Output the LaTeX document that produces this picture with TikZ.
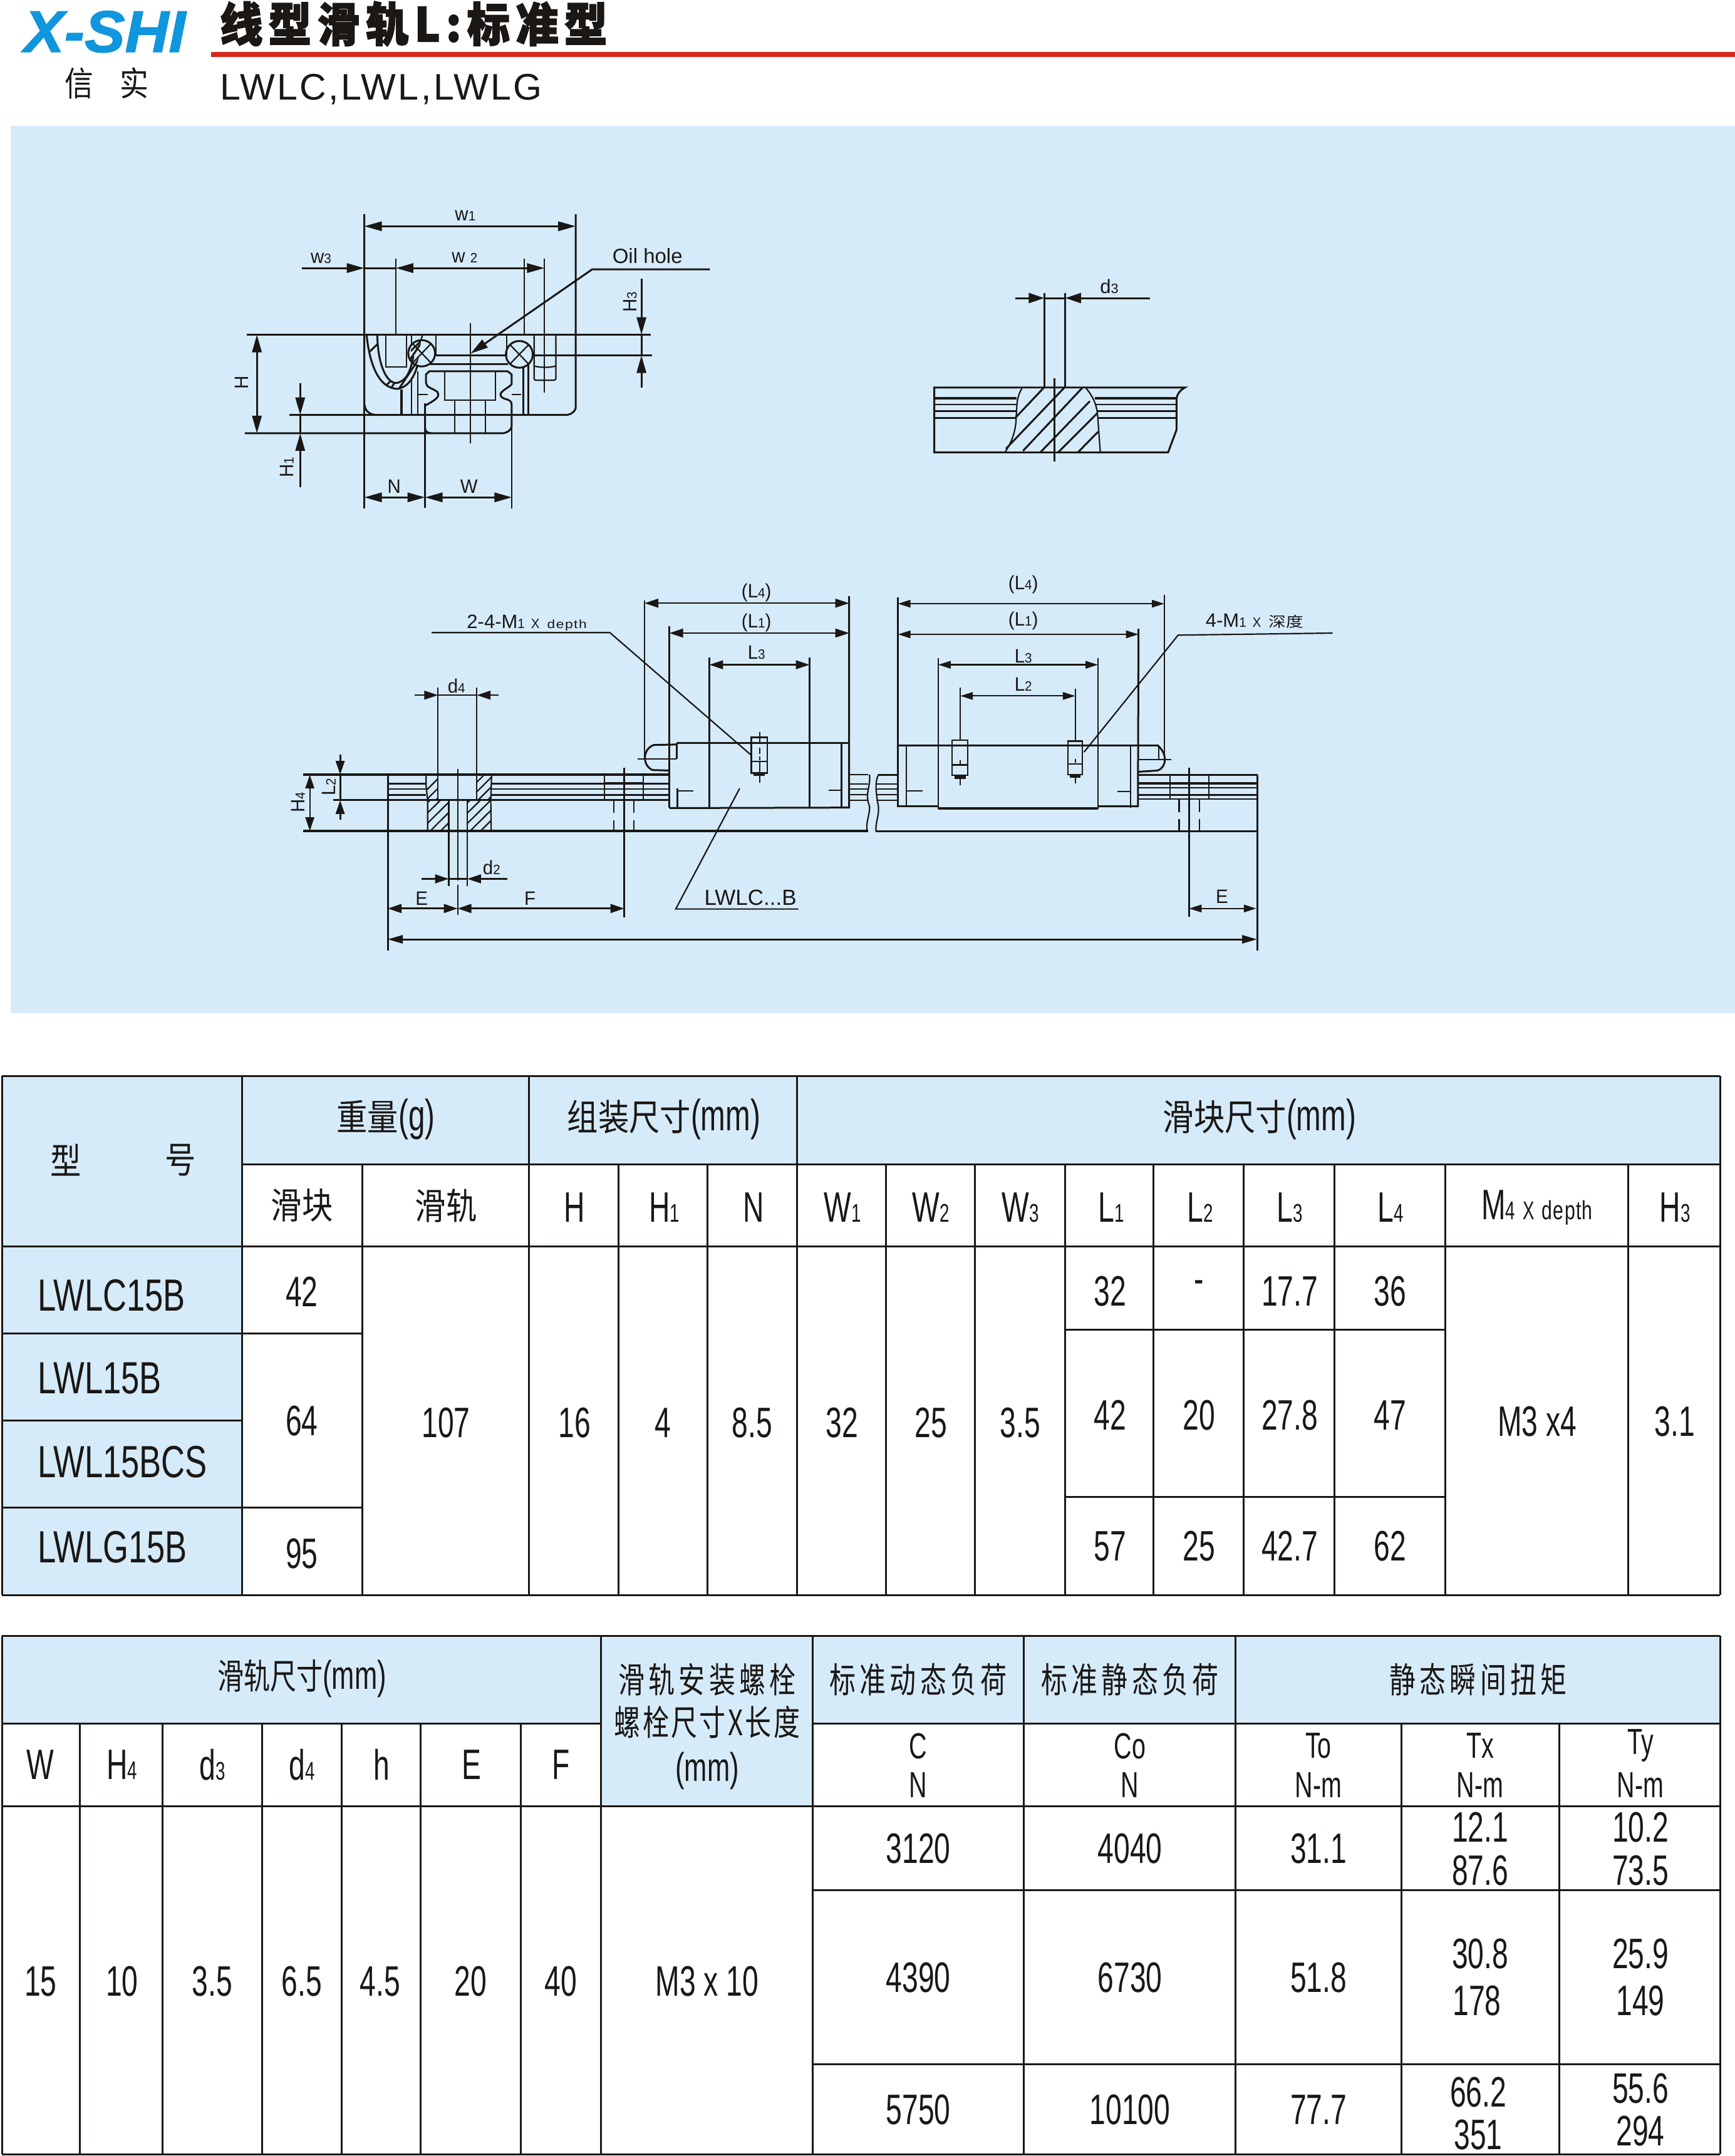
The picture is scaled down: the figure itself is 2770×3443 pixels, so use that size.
\documentclass[tikz,border=0pt]{standalone}
\usepackage{graphicx}
\usepackage{fontspec}
\usepackage{tikz}
\definecolor{panelBlue}{HTML}{D6EBFA}
\definecolor{logoBlue}{HTML}{0F96DC}
\definecolor{ruleRed}{HTML}{D9281E}
\definecolor{inkBlack}{HTML}{1A1715}
\usetikzlibrary{arrows.meta}
\setmainfont{Liberation Sans}
\newfontfamily\tblfont[FakeStretch=.68]{Liberation Sans}
\newfontfamily\modelfont[FakeStretch=.73]{Liberation Sans}
\newfontfamily\lblfont[FakeStretch=.95]{Liberation Sans}
\newfontfamily\plainfont{Liberation Sans}
\newfontfamily\depthfont[FakeStretch=1.2,LetterSpace=8]{Liberation Sans}
\newfontfamily\depthcell[FakeStretch=.72,LetterSpace=3]{Liberation Sans}
\newfontfamily\subtitlefont[LetterSpace=6]{Liberation Sans}
\newfontfamily\logofont[FakeStretch=1.03,FakeBold=1.5]{Liberation Sans}
\newfontfamily\cjkfont[FakeStretch=.85]{Noto Sans CJK SC}
\newfontfamily\cjknarrow[FakeStretch=.75]{Noto Sans CJK SC}
\newfontfamily\cjkflat[FakeStretch=1.2]{Noto Sans CJK SC}
\newfontfamily\cjkwide[FakeStretch=.75,LetterSpace=11]{Noto Sans CJK SC}
\newfontfamily\cjkmid[FakeStretch=.75,LetterSpace=6]{Noto Sans CJK SC}
\newfontfamily\titlefont[FakeStretch=.92,FakeBold=2.5,LetterSpace=13]{Noto Sans CJK SC}
\newcommand{\lows}[1]{\scalebox{.6}{#1}}
\newcommand{\lowd}[1]{\scalebox{.7}{#1}}
\newcommand{\hdcjk}[1]{{\cjkfont\fontsize{58}{58}\selectfont #1}}
\newcommand{\hdlow}[1]{{\cjknarrow\fontsize{56}{56}\selectfont #1}}
\tikzset{
  partline/.style={inkBlack, line width=3pt},
  thinpart/.style={inkBlack, line width=2.2pt},
  heavyline/.style={inkBlack, line width=3.6pt},
  gridline/.style={inkBlack, line width=3pt},
  dimtext/.style={inkBlack, inner sep=0pt, font=\lblfont\fontsize{31}{31}\selectfont},
  celltext/.style={inkBlack, inner sep=0pt, font=\tblfont\fontsize{68}{68}\selectfont},
  headtext/.style={inkBlack, inner sep=0pt, font=\tblfont\fontsize{70}{70}\selectfont},
}
\begin{document}
\begin{tikzpicture}[x=1pt, y=-1pt]
  \useasboundingbox (0,0) rectangle (2770,3443);
  \fill[panelBlue] (17,201) rectangle (2770,1618);
  \fill[ruleRed] (337,83) rectangle (2770,91);

  \node[logoBlue, inner sep=0pt, anchor=base west, font=\logofont\bfseries\itshape\fontsize{94}{94}\selectfont] (logo) at (38,83) {X-SHI};
  \node[inkBlack, inner sep=0pt, font=\cjkfont\fontsize{54}{54}\selectfont] (logoA) at (126,133) {信};
  \node[inkBlack, inner sep=0pt, font=\cjkfont\fontsize{54}{54}\selectfont] (logoB) at (214,133) {实};
  \node[inkBlack, inner sep=0pt, anchor=west, font=\titlefont\bfseries\fontsize{74}{74}\selectfont] (title) at (351,38) {线型滑轨L:标准型};
  \node[inkBlack, inner sep=0pt, anchor=base west, font=\subtitlefont\fontsize{59}{59}\selectfont] (subtitle) at (351,159) {LWLC,LWL,LWLG};

  % end view of block and rail
  \begin{scope}[shift={(340,300)}, x=.5357pt, y=-.3444pt, >={Triangle[length=28pt,width=15pt]}]
    \draw[partline] (100,681) -- (1305,681);
    \draw[partline] (451,122) -- (451,1000) .. controls (453,1040) and (470,1053) .. (490,1053);
    \draw[partline] (451,1000) -- (451,1488);
    \draw[partline] (1081,122) -- (1081,1022) .. controls (1078,1040) and (1065,1053) .. (1050,1053) -- (228,1053);
    \draw[partline] (95,1138) -- (855,1138) .. controls (870,1140) and (885,1130) .. (890,1110);
    \draw[partline] (665,777) -- (875,777);
    \draw[partline] (955,777) -- (1308,777);
    \draw[partline] (648,818) -- (880,818);
    \draw[thinpart] (767,628) -- (767,1185);
    \draw[thinpart] (545,328) -- (545,681);
    \draw[thinpart] (927,328) -- (927,681);
    \draw[thinpart] (988,328) -- (988,950);
    \draw[thinpart] (632,1000) -- (632,1485);
    \draw[thinpart] (891,1000) -- (891,1488);
    % pockets and bearing balls
    \draw[thinpart] (515,681) -- (515,830) -- (577,830) -- (577,681);
    \draw[thinpart] (957,681) -- (957,885) .. controls (958,892) and (960,892) .. (965,892) -- (1012,892) .. controls (1020,892) and (1022,890) .. (1022,880) -- (1022,681);
    \draw[thinpart] (957,826) .. controls (975,834) and (1005,834) .. (1022,826);
    \draw[thinpart] (592,681) -- (592,725);
    \draw[thinpart] (665,681) -- (665,777);
    \draw[thinpart] (875,681) -- (875,777);
    \draw[thinpart] (625,681) -- (620,705);
    \draw[partline] (622,767) ellipse [x radius=40, y radius=61];
    \draw[thinpart] (595,722) -- (650,812) (650,722) -- (595,812);
    \draw[partline] (913,772) ellipse [x radius=40, y radius=62];
    \draw[thinpart] (885,727) -- (941,817) (941,727) -- (885,817);
    % curved seal with its hatching
    \draw[partline] (458,681) .. controls (465,800) and (490,930) .. (550,932) .. controls (580,925) and (600,880) .. (610,820);
    \draw[partline] (490,681) .. controls (490,790) and (510,900) .. (545,905) .. controls (575,900) and (590,850) .. (597,780);
    \begin{scope}
      \clip (458,681) .. controls (465,800) and (490,930) .. (550,932) .. controls (580,925) and (612,880) .. (620,700) -- (590,720) .. controls (590,850) and (575,900) .. (545,905) .. controls (510,900) and (490,790) .. (490,681) -- cycle;
      \foreach \hs in {0,60,...,480} \draw[partline] (440+\hs,800) -- ++(80,-120);
      \foreach \hs in {0,60,...,240} \draw[partline] (400+\hs,1000) -- ++(80,-120);
      \foreach \hs in {0,25,...,300} \draw[partline] (500+\hs,1000) -- ++(120,-280);
    \end{scope}
    \draw[heavyline] (562,935) -- (562,1053);
    \draw[thinpart] (592,880) -- (592,1053);
    \draw[thinpart] (610,850) -- (610,1053);
    \draw[thinpart] (925,830) -- (925,1053);
    \draw[thinpart] (940,820) -- (940,1053);
    % rail profile
    \draw[partline] (650,1138) .. controls (636,1134) and (632,1128) .. (632,1110) -- (632,1010) .. controls (660,985) and (680,970) .. (668,945) .. controls (655,930) and (635,925) .. (635,905) -- (635,865) -- (645,850) -- (878,850) -- (890,865) -- (890,910) .. controls (885,925) and (850,945) .. (858,965) .. controls (865,985) and (890,975) .. (890,1005) -- (890,1110);
    \draw[thinpart] (690,850) -- (690,985) -- (842,985) -- (842,850);
    \draw[thinpart] (720,985) -- (720,1138);
    \draw[thinpart] (812,985) -- (812,1138);
    \draw[thinpart] (610,958) -- (640,958);
    \draw[thinpart] (890,958) -- (918,958);
    % dimensions
    \draw[<->, partline] (451,178) -- (1081,178);
    \draw[->, partline] (265,372) -- (451,372);
    \draw[<->, partline] (545,372) -- (988,372);
    \draw[partline] (451,372) -- (545,372);
    \draw[->, partline] (1481,378) -- (1130,378) -- (768,768);
    \draw[->, partline] (1277,422) -- (1277,681);
    \draw[->, partline] (1277,925) -- (1277,777);
    \draw[partline] (1277,681) -- (1277,777);
    \draw[<->, partline] (131,681) -- (131,1138);
    \draw[->, partline] (260,905) -- (260,1053);
    \draw[->, partline] (260,1388) -- (260,1138);
    \draw[partline] (260,1053) -- (260,1138);
    \draw[<->, partline] (451,1435) -- (632,1435);
    \draw[<->, partline] (632,1435) -- (891,1435);
    \node[dimtext] (lblWa) at (752,130) {w\lowd{1}};
    \node[dimtext] (lblWb) at (750,322) {w \lowd{2}};
    \node[dimtext] (lblWc) at (322,325) {w\lowd{3}};
    \node[inkBlack, inner sep=0pt, font=\plainfont\fontsize{33}{33}\selectfont] (lblOil) at (1295,315) {Oil hole};
    \node[dimtext, rotate=90] (lblHc) at (1243,530) {H\lowd{3}};
    \node[dimtext, rotate=90] (lblH) at (85,902) {H};
    \node[dimtext, rotate=90] (lblHa) at (220,1295) {H\lowd{1}};
    \node[dimtext] (lblN) at (540,1385) {N};
    \node[dimtext] (lblW) at (763,1385) {W};
  \end{scope}

  % cut through the rail
  \begin{scope}[shift={(1440,400)}, x=.3333pt, y=-.3333pt, >={Triangle[length=25pt,width=16pt]}]
    \draw[partline] (155,967) -- (155,657) -- (1355,657) .. controls (1330,670) and (1318,690) .. (1315,710) -- (1315,860) -- (1275,967) -- cycle;
    \foreach \sy/\sw in {708/3.6,802/3.2,738/2.4,770/2.4} {
      \draw[inkBlack, line width=\sw pt] (155,\sy) -- (548,\sy);
      \draw[inkBlack, line width=\sw pt] (925,\sy) -- (1315,\sy);
    }
    \fill[panelBlue] (552,662) .. controls (552,700) and (550,720) .. (548,800) .. controls (546,860) and (530,910) .. (497,963) -- (947,963) -- (938,800) .. controls (935,730) and (900,680) .. (880,662) -- cycle;
    \draw[thinpart] (575,660) .. controls (560,685) and (552,710) .. (550,750) -- (547,800) .. controls (546,860) and (530,910) .. (495,965);
    \draw[thinpart] (882,660) .. controls (915,700) and (935,740) .. (938,800) -- (950,967);
    \draw[partline] (545,800) -- (680,657);
    \draw[partline] (498,950) -- (778,657);
    \draw[partline] (580,960) -- (865,657);
    \draw[partline] (665,965) -- (900,722);
    \draw[partline] (750,965) -- (935,780);
    \draw[partline] (845,965) -- (940,868);
    \draw[partline] (730,612) -- (730,1012);
    \draw[partline] (682,205) -- (682,657);
    \draw[partline] (783,205) -- (783,657);
    \draw[->, partline] (543,228) -- (682,228);
    \draw[->, partline] (1187,228) -- (783,228);
    \draw[partline] (682,228) -- (783,228);
    \node[inkBlack, inner sep=0pt, font=\plainfont\fontsize{31}{31}\selectfont] (lblDc) at (993,172) {d\lowd{3}};
  \end{scope}

  % front view, left part of the rail
  \begin{scope}[shift={(420,900)}, x=.6378pt, y=-.408pt, >={Triangle[length=22pt,width=14pt]}]
    \draw[heavyline] (100,826) -- (1017,826);
    \draw[heavyline] (100,1047) -- (1515,1047);
    \draw[partline] (175,926) -- (1017,926);
    \foreach \sy/\sw in {862/3.4,882/2.2,905/2.6} {
      \draw[inkBlack, line width=\sw pt] (312,\sy) -- (408,\sy);
      \draw[inkBlack, line width=\sw pt] (572,\sy) -- (1017,\sy);
    }
    \draw[partline] (312,826) -- (312,1515);
    \draw[thinpart] (438,485) -- (438,926);
    \draw[thinpart] (535,485) -- (535,926);
    \draw[thinpart] (487,803) -- (487,1240);
    \draw[thinpart] (487,1258) -- (487,1375);
    \draw[thinpart] (465,926) -- (465,1262);
    \draw[thinpart] (511,926) -- (511,1262);
    \draw[thinpart] (408,826) -- (408,870) -- (412,926) -- (412,1047);
    \draw[thinpart] (572,826) -- (570,926) -- (571,1047);
    % hatched sections of the mounting hole
    \begin{scope}
      \clip (408,826) -- (438,826) -- (438,926) -- (412,926) -- (408,870) -- cycle;
      \foreach \hs in {0,24,...,120} \draw[thinpart] (384+\hs,926) -- ++(64,-100);
    \end{scope}
    \begin{scope}
      \clip (535,826) -- (572,826) -- (570,926) -- (535,926) -- cycle;
      \foreach \hs in {0,24,...,120} \draw[thinpart] (490+\hs,926) -- ++(64,-100);
    \end{scope}
    \begin{scope}
      \clip (412,926) rectangle (465,1047);
      \foreach \hs in {0,26,...,182} \draw[thinpart] (340+\hs,1047) -- ++(78,-121);
    \end{scope}
    \begin{scope}
      \clip (511,926) rectangle (571,1047);
      \foreach \hs in {0,26,...,208} \draw[thinpart] (440+\hs,1047) -- ++(78,-121);
    \end{scope}
    % far bolt hole
    \draw[thinpart] (855,826) -- (855,926);
    \draw[thinpart] (952,826) -- (952,926);
    \draw[thinpart] (855,858) -- (952,858);
    \draw[partline] (904,800) -- (904,1385);
    \draw[thinpart] (878,930) -- (878,975) (878,1005) -- (878,1047);
    \draw[thinpart] (928,930) -- (928,975) (928,1005) -- (928,1047);
    % block
    \draw[partline] (1035,703) -- (1467,703);
    \draw[partline] (1467,128) -- (1467,955) -- (1017,957);
    \draw[partline] (1017,245) -- (1017,957);
    \draw[thinpart] (955,145) -- (955,765);
    \draw[thinpart] (1117,368) -- (1117,955);
    \draw[thinpart] (1368,368) -- (1368,955);
    \draw[partline] (1035,703) -- (1035,765);
    \draw[thinpart] (1037,880) -- (1037,955);
    \draw[thinpart] (1448,703) -- (1448,955);
    \draw[thinpart] (1037,890) -- (1077,890);
    \draw[thinpart] (1415,887) -- (1448,887);
    \draw[partline] (1035,708) -- (978,710) .. controls (950,725) and (948,790) .. (975,808) -- (1017,810);
    \draw[thinpart] (937,764) -- (1035,764);
    % threaded hole
    \draw[thinpart] (1222,680) rectangle (1262,820);
    \draw[thinpart] (1222,775) -- (1262,775);
    \fill[inkBlack] (1228,820) rectangle (1256,832);
    \draw[thinpart] (1243,660) -- (1243,700) (1243,720) -- (1243,745) (1243,755) -- (1243,770) (1243,775) -- (1243,858);
    % stub beyond the block and the break
    \foreach \sy in {826,862,882,905,926} \draw[thinpart] (1467,\sy) -- (1515,\sy);
    \draw[thinpart] (1518,826) .. controls (1522,870) and (1505,900) .. (1518,950) .. controls (1520,980) and (1508,1010) .. (1512,1047);
    % dimensions and leaders
    \draw[<->, thinpart] (955,155) -- (1467,155);
    \draw[<->, thinpart] (1017,272) -- (1467,272);
    \draw[<->, thinpart] (1117,396) -- (1368,396);
    \draw[thinpart] (422,270) -- (868,270) -- (1222,750);
    \draw[thinpart] (1193,880) -- (1033,1352) -- (1340,1352);
    \draw[<->, thinpart] (117,826) -- (117,1047);
    \draw[->, partline] (193,748) -- (193,826);
    \draw[->, partline] (193,1003) -- (193,926);
    \draw[partline] (193,826) -- (193,926);
    \draw[->, thinpart] (380,515) -- (438,515);
    \draw[->, thinpart] (590,515) -- (535,515);
    \draw[thinpart] (438,515) -- (535,515);
    \draw[->, thinpart] (397,1234) -- (465,1234);
    \draw[->, thinpart] (612,1234) -- (511,1234);
    \draw[thinpart] (465,1234) -- (511,1234);
    \draw[<->, partline] (312,1350) -- (487,1350);
    \draw[<->, partline] (487,1350) -- (904,1350);
    \node[dimtext] (lblLd) at (1235,115) {(L\lowd{4})};
    \node[dimtext] (lblLa) at (1235,232) {(L\lowd{1})};
    \node[dimtext] (lblLc) at (1235,348) {L\lowd{3}};
    \node[dimtext, anchor=west] (lblM) at (510,232) {{\plainfont 2-4-M}\lowd{1}\hspace{10pt}\lowd{X}\hspace{12pt}{\depthfont\fontsize{19}{19}\selectfont depth}};
    \node[dimtext] (lblDd) at (484,478) {d\lowd{4}};
    \node[dimtext] (lblDb) at (572,1190) {d\lowd{2}};
    \node[dimtext] (lblEa) at (397,1310) {E};
    \node[dimtext] (lblF) at (668,1310) {F};
    \node[dimtext, rotate=90] (lblHd) at (88,935) {H\lowd{4}};
    \node[dimtext, rotate=90] (lblLb) at (165,875) {L\lowd{2}};
    \node[inkBlack, inner sep=0pt, font=\plainfont\fontsize{35}{35}\selectfont] (lblType) at (1220,1308) {LWLC...B};
  \end{scope}

  % front view, right part of the rail
  \begin{scope}[shift={(1380,900)}, x=.4974pt, y=-.408pt, >={Triangle[length=20pt,width=12pt]}]
    \draw[partline] (45,826) -- (108,826);
    \foreach \sy in {862,882,905,926} \draw[thinpart] (38,\sy) -- (108,\sy);
    \draw[thinpart] (45,826) .. controls (32,860) and (38,900) .. (45,950) .. controls (48,985) and (36,1010) .. (37,1047);
    \draw[partline] (37,1047) -- (1262,1047);
    \draw[partline] (878,828) -- (1262,828);
    \foreach \sy/\sw in {860/3.4,878/2.2,905/2.6,922/2.6} \draw[inkBlack, line width=\sw pt] (878,\sy) -- (1262,\sy);
    \draw[thinpart] (981,828) -- (981,922);
    \draw[thinpart] (1105,828) -- (1105,922);
    \draw[partline] (1042,800) -- (1042,1383);
    \draw[thinpart] (1010,925) -- (1010,972) (1010,1000) -- (1010,1047);
    \draw[thinpart] (1075,925) -- (1075,972) (1075,1000) -- (1075,1047);
    \draw[partline] (1262,828) -- (1262,1515);
    % block
    \draw[partline] (108,133) -- (108,950) -- (237,950);
    \draw[partline] (750,950) -- (878,950) -- (880,255);
    \draw[heavyline] (237,958) -- (750,958);
    \draw[partline] (108,713) -- (945,713);
    \draw[thinpart] (963,123) -- (963,770);
    \draw[thinpart] (237,370) -- (237,960);
    \draw[thinpart] (750,370) -- (750,960);
    \draw[thinpart] (135,713) -- (135,950);
    \draw[thinpart] (855,710) -- (855,955);
    \draw[thinpart] (135,890) -- (187,890);
    \draw[thinpart] (813,892) -- (855,892);
    \draw[partline] (940,710) .. controls (975,745) and (970,800) .. (940,810) -- (878,815);
    \draw[thinpart] (878,767) -- (985,767);
    \draw[thinpart] (945,713) -- (945,767);
    % threaded holes
    \foreach \bx/\by/\bw/\bb in {282/692/332/828,653/695/700/825} {
      \draw[thinpart] (\bx,\by) rectangle (\bw,\bb);
      \draw[thinpart] (\bx,\bb-40) -- (\bw,\bb-40);
      \fill[inkBlack] (\bx+7,\bb) rectangle (\bw-7,\bb+14);
    }
    \draw[thinpart] (308,485) -- (308,690) (308,770) -- (308,785) (308,828) -- (308,868);
    \draw[thinpart] (677,490) -- (677,695) (677,765) -- (677,780) (677,825) -- (677,860);
    % dimensions and leaders
    \draw[<->, thinpart] (108,157) -- (963,157);
    \draw[<->, thinpart] (108,277) -- (880,277);
    \draw[<->, thinpart] (237,396) -- (750,396);
    \draw[<->, thinpart] (308,518) -- (677,518);
    \draw[thinpart] (1503,272) -- (1007,280) -- (705,738);
    \draw[<->, thinpart] (1042,1350) -- (1258,1350);
    \node[dimtext] (lblLe) at (510,82) {(L\lowd{4})};
    \node[dimtext] (lblLf) at (510,225) {(L\lowd{1})};
    \node[dimtext] (lblLg) at (510,362) {L\lowd{3}};
    \node[dimtext] (lblLh) at (510,472) {L\lowd{2}};
    \node[dimtext, anchor=west] (lblMb) at (1095,225) {{\plainfont 4-M}\lowd{1}\hspace{10pt}\lowd{X}\hspace{12pt}{\cjkflat\fontsize{23}{23}\selectfont 深度}};
    \node[dimtext] (lblEb) at (1148,1303) {E};
  \end{scope}

  % overall length
  \coordinate (lenA) at (619,1500);
  \coordinate (lenB) at (2007,1500);
  \draw[<->, >={Triangle[length=24pt,width=13pt]}, partline] (lenA) -- (lenB);

  % first table
  \fill[panelBlue] (3,1718) rectangle (2746,1859);
  \fill[panelBlue] (3,1718) rectangle (386,2547);
  \foreach \gy/\ga/\gb in {1718/3/2746,1859/386/2746,1990/3/2746,2547/3/2746,2129/3/578,2268/3/386,2407/3/578,2123/1700/2307,2390/1700/2307}
    \draw[gridline] (\ga,\gy) -- (\gb,\gy);
  \foreach \gx in {3,386,844,1272,2746}
    \draw[gridline] (\gx,1718) -- (\gx,2547);
  \foreach \gx in {578,987,1129,1414,1556,1700,1841,1985,2130,2307,2599}
    \draw[gridline] (\gx,1859) -- (\gx,2547);

  \foreach \cx/\cy/\ctxt [count=\ci] in {616/1787/{\hdcjk{重量}(g)},1060/1787/{\hdcjk{组装尺寸}(mm)},2011/1787/{\hdcjk{滑块尺寸}(mm)},105/1853/{\hdcjk{型}},288/1853/{\hdcjk{号}},482/1925/{\hdcjk{滑块}},712/1925/{\hdcjk{滑轨}}}
    \node[headtext] (hdA\ci) at (\cx,\cy) {\ctxt};
  \foreach \cx/\ctxt [count=\ci] in {917/H,1061/H\lows{1},1203/N,1345/W\lows{1},1486/W\lows{2},1629/W\lows{3},1774/L\lows{1},1916/L\lows{2},2059/L\lows{3},2220/L\lows{4},2454/{M\lows{4}\hspace{12pt}\lows{X}\hspace{12pt}{\depthcell\fontsize{42}{42}\selectfont depth}},2674/H\lows{3}}
    \node[celltext] (colA\ci) at (\cx,1928) {\ctxt};
  \foreach \cy/\ctxt [count=\ci] in {2069/LWLC15B,2201/LWL15B,2335/LWL15BCS,2471/LWLG15B}
    \node[celltext, anchor=west, font=\modelfont\fontsize{72}{72}\selectfont] (model\ci) at (60,\cy) {\ctxt};
  \foreach \cx/\cy/\ctxt [count=\ci] in {482/2063/42,482/2269/64,482/2481/95,712/2272/107,917/2272/16,1058/2272/4,1201/2272/8.5,1344/2272/32,1486/2272/25,1629/2272/3.5,1772/2062/32,1914/2055/-,2059/2062/17.7,2219/2062/36,1772/2260/42,1914/2260/20,2059/2260/27.8,2219/2260/47,1772/2469/57,1914/2469/25,2059/2469/42.7,2219/2469/62,2454/2270/M3 x4,2674/2270/3.1}
    \node[celltext] (valA\ci) at (\cx,\cy) {\ctxt};

  % second table
  \fill[panelBlue] (3,2612) rectangle (2746,2752);
  \fill[panelBlue] (959,2612) rectangle (1297,2884);
  \foreach \gy/\ga/\gb in {2612/3/2746,2752/3/959,2752/1297/2746,2884/3/2746,3018/1297/2746,3296/1297/2746,3440/3/2746}
    \draw[gridline] (\ga,\gy) -- (\gb,\gy);
  \foreach \gx in {3,959,1297,1634,1972,2746}
    \draw[gridline] (\gx,2612) -- (\gx,3440);
  \foreach \gx in {127,259,418,545,671,831,2237,2489}
    \draw[gridline] (\gx,2752) -- (\gx,3440);

  \node[headtext, font=\tblfont\fontsize{64}{64}\selectfont] (hdB) at (482,2680) {\hdlow{滑轨尺寸}(mm)};
  \node[headtext, font=\cjkwide\fontsize{56}{56}\selectfont] (hdBolta) at (1129,2682) {滑轨安装螺栓};
  \node[headtext, font=\cjkmid\fontsize{56}{56}\selectfont] (hdBoltb) at (1129,2750) {螺栓尺寸X长度};
  \node[headtext, font=\tblfont\fontsize{64}{64}\selectfont] (hdBoltc) at (1129,2828) {(mm)};
  \node[headtext, font=\cjkwide\fontsize{56}{56}\selectfont] (hdC) at (1466,2682) {标准动态负荷};
  \node[headtext, font=\cjkwide\fontsize{56}{56}\selectfont] (hdCo) at (1804,2682) {标准静态负荷};
  \node[headtext, font=\cjkwide\fontsize{56}{56}\selectfont] (hdT) at (2360,2682) {静态瞬间扭矩};
  \foreach \cx/\ctxt [count=\ci] in {64/W,195/H\lows{4},339/d\lows{3},482/d\lows{4},609/h,753/E,896/F}
    \node[celltext] (colB\ci) at (\cx,2818) {\ctxt};
  \foreach \cx/\cy/\ctxt [count=\ci] in {1466/2788/C,1466/2851/N,1804/2788/Co,1804/2851/N,2105/2788/To,2105/2851/N-m,2363/2788/Tx,2363/2851/N-m,2619/2788/Ty,2619/2851/N-m}
    \node[celltext, font=\tblfont\fontsize{58}{58}\selectfont] (unit\ci) at (\cx,\cy) {\ctxt};
  \foreach \cx/\ctxt [count=\ci] in {65/15,195/10,339/3.5,482/6.5,607/4.5,751/20,895/40,1129/M3 x 10}
    \node[celltext] (valB\ci) at (\cx,3164) {\ctxt};
  \foreach \cx/\cy/\ctxt [count=\ci] in {1466/2952/3120,1804/2952/4040,2105/2952/31.1,2363/2918/12.1,2363/2987/87.6,2619/2918/10.2,2619/2987/73.5,1466/3158/4390,1804/3158/6730,2105/3158/51.8,2363/3120/30.8,2358/3195/178,2619/3120/25.9,2619/3195/149,1466/3369/5750,1804/3369/10100,2105/3369/77.7,2360/3341/66.2,2360/3409/351,2619/3335/55.6,2619/3403/294}
    \node[celltext] (valC\ci) at (\cx,\cy) {\ctxt};
\end{tikzpicture}
\end{document}
